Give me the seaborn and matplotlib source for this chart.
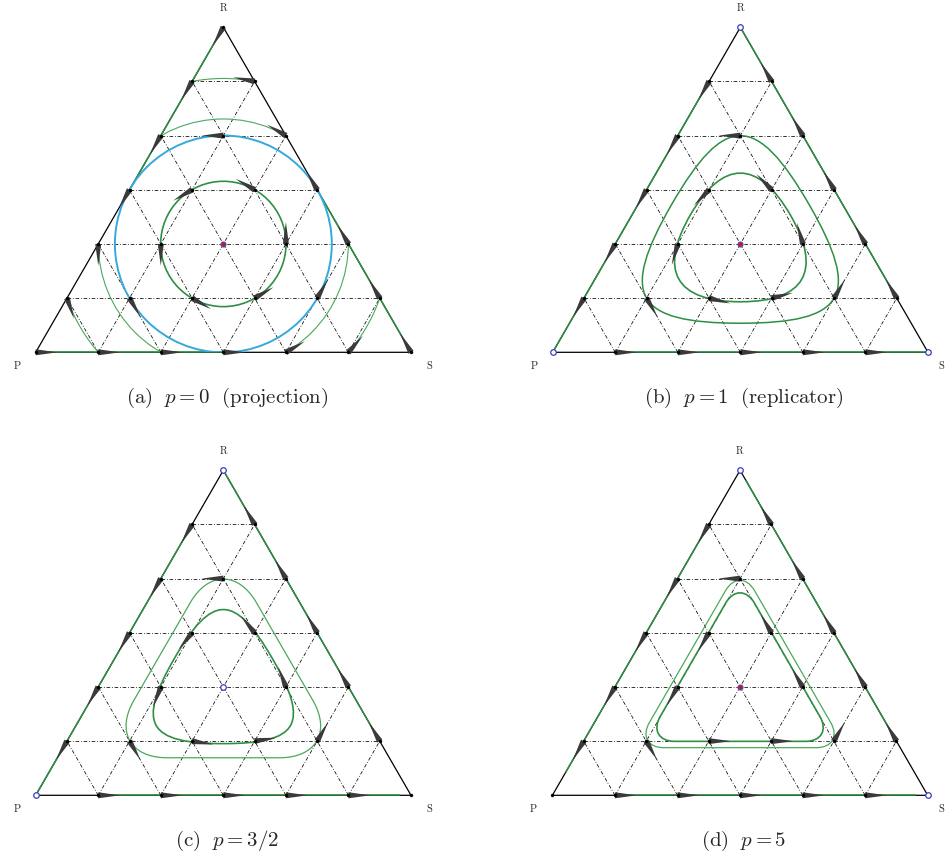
import numpy as np
import pandas as pd
import matplotlib
matplotlib.use("Agg")
import matplotlib.pyplot as plt
import seaborn as sns
from matplotlib.patches import Polygon, Circle, PathPatch
from matplotlib.path import Path

sns.set_theme(style="white")
plt.rcParams["mathtext.fontset"] = "cm"
plt.rcParams["lines.scale_dashes"] = False

H = np.sqrt(3) / 2
N = 6  # grid subdivisions per side

captions = [r"$\mathrm{(a)}\ \ p=0\ \ \mathrm{(projection)}$",
            r"$\mathrm{(b)}\ \ p=1\ \ \mathrm{(replicator)}$",
            r"$\mathrm{(c)}\ \ p=3/2$",
            r"$\mathrm{(d)}\ \ p=5$"]
vertex_names = ["R", "P", "S"]

# arrow direction (degrees) at every grid node, row by row from the P-S side up
# (row k has R = k/6, node m has S = m/6); None means no arrow at that node
arrows_a = [0, 0, 0, 0, 30, 49, 120,
            289, 300, 330, 30, 60, 120,
            270, 270, None, 90, 120,
            240, 210, 150, 120,
            240, 180, 150,
            240, 169,
            240]
arrows_b = [None, 0, 0, 0, 0, 0, None,
            240, 300, 346, 14, 60, 120,
            240, 254, None, 106, 120,
            240, 226, 134, 120,
            240, 180, 120,
            240, 120,
            None]
arrows_c = [None, 0, 0, 0, 0, 0, None,
            240, 300, 351, 9, 60, 120,
            240, 249, None, 111, 120,
            240, 231, 129, 120,
            240, 180, 120,
            240, 120,
            None]
arrows_d = [None, 0, 0, 0, 0, 0, None,
            240, 300, 0, 0, 60, 120,
            240, 240, None, 120, 120,
            240, 240, 120, 120,
            240, 180, 120,
            240, 120,
            None]

# green pieces of the boundary, (R, P, S) end points
edges_a = [((0.5, 0.5, 0), (1, 0, 0)), ((0, 1, 0), (0, 0.5, 0.5)), ((0, 0, 1), (0.5, 0, 0.5))]
edges_b = [((5/6, 1/6, 0), (0, 1, 0)), ((0, 5/6, 1/6), (0, 0, 1)), ((1, 0, 0), (1/6, 0, 5/6))]
edges_c = [((5/6, 1/6, 0), (0, 1, 0)), ((0, 5/6, 1/6), (0, 0.03, 0.97)), ((1, 0, 0), (1/6, 0, 5/6))]
edges_d = [((5/6, 1/6, 0), (0.07, 0.93, 0)), ((0, 5/6, 1/6), (0, 0.03, 0.97)), ((0.97, 0, 0.03), (1/6, 0, 5/6))]

# orbits of panel (a): circles around the barycentre (radius in side lengths)
circles_a = [0.167, 0.333, 0.441]
circle_a_blue = 0.289
# orbits of panels (b)-(d): R share of the corner pointing at R, inner then outer
orbit_corner = {"b": [0.689, 0.821], "c": [0.682, 0.769], "d": [0.668, 0.707]}
orbit_shape = {"b": [(0.5, 0.645), (0.5, 0.77)],
               "c": [(0.5, 0.77), (0.27, 0.55)],
               "d": [(0.153, 0.55), (0.138, 0.55)]}
open_vertices = {"a": [], "b": [0, 1, 2], "c": [0, 1], "d": [0, 2]}
center_open = {"a": False, "b": False, "c": True, "d": False}

GREEN = "#2f8f42"
GREEN_L = "#4aa95b"
BLUE = "#35a8dc"
ARROW = "#3a3a3a"


def to_xy(r, p, s):
    return np.array([s + r / 2, r * H])


nodes = pd.DataFrame([(k, m) for k in range(N + 1) for m in range(N + 1 - k)], columns=["k", "m"])
nodes["x"] = nodes["m"] / N + nodes["k"] / (2 * N)
nodes["y"] = nodes["k"] / N * H

VERT = [to_xy(1, 0, 0), to_xy(0, 1, 0), to_xy(0, 0, 1)]


def rounded_triangle(rc, cut, tension):
    lo = (1 - rc) / 2
    cs = [to_xy(rc, lo, lo), to_xy(lo, rc, lo), to_xy(lo, lo, rc)]
    verts, codes = [], []
    for i in range(3):
        c, prv, nxt = cs[i], cs[i - 1], cs[(i + 1) % 3]
        a0 = c + cut * (prv - c)
        a1 = c + cut * (nxt - c)
        verts.append(a0)
        codes.append(Path.MOVETO if i == 0 else Path.LINETO)
        verts += [a0 + tension * (c - a0), a1 + tension * (c - a1), a1]
        codes += [Path.CURVE4] * 3
    verts.append(verts[0])
    codes.append(Path.CLOSEPOLY)
    return Path(verts, codes)


def draw_panel(ax, key, arrows, edges, caption, s_x):
    ax.set_xlim(0, 1)
    ax.set_ylim(0, H)
    ax.axis("off")

    # dash-dot grid
    ls = (0, (2.6, 1.3, 0.6, 1.3))
    for i in range(1, N):
        t = i / N
        for a, b in [((t, 1 - t, 0), (t, 0, 1 - t)),
                     ((0, 1 - t, t), (1 - t, 0, t)),
                     ((0, t, 1 - t), (1 - t, t, 0))]:
            pa, pb = to_xy(*a), to_xy(*b)
            ax.plot([pa[0], pb[0]], [pa[1], pb[1]], color="black", lw=0.55, ls=ls, zorder=1)

    ax.add_patch(Polygon(VERT, closed=True, fill=False, ec="black", lw=0.9, zorder=2, clip_on=False))
    for a, b in edges:
        pa, pb = to_xy(*a), to_xy(*b)
        ax.plot([pa[0], pb[0]], [pa[1], pb[1]], color=GREEN, lw=1.1, zorder=3,
                solid_capstyle="butt", clip_on=False)

    clip = Polygon(VERT, closed=True, transform=ax.transData)
    if key == "a":
        for r, lw, col in zip(circles_a, [1.2, 0.8, 0.8], [GREEN, GREEN_L, GREEN_L]):
            c = Circle(to_xy(1/3, 1/3, 1/3), r, fill=False, ec=col, lw=lw, zorder=3)
            ax.add_patch(c)
            c.set_clip_path(clip)
        ax.add_patch(Circle(to_xy(1/3, 1/3, 1/3), circle_a_blue, fill=False, ec=BLUE, lw=1.4, zorder=3))
    else:
        styles = [(1.2, GREEN), (1.1, GREEN)] if key == "b" else [(1.2, GREEN), (0.9, GREEN_L)]
        for rc, (cut, ten), (lw, col) in zip(orbit_corner[key], orbit_shape[key], styles):
            ax.add_patch(PathPatch(rounded_triangle(rc, cut, ten), fill=False, ec=col, lw=lw, zorder=3))

    # flow arrows: tapered wedges starting at the node
    L, w = 0.058, 0.016
    for (_, row), ang in zip(nodes.iterrows(), arrows):
        if ang is None:
            continue
        d = np.array([np.cos(np.radians(ang)), np.sin(np.radians(ang))])
        n = np.array([-d[1], d[0]])
        p0 = np.array([row["x"], row["y"]])
        ax.add_patch(Polygon([p0 + n * w / 2, p0 + d * L, p0 - n * w / 2], closed=True,
                             fc=ARROW, ec="none", zorder=4, clip_on=False))

    sns.scatterplot(data=nodes, x="x", y="y", ax=ax, s=6, color="black", linewidth=0,
                    legend=False, zorder=5, clip_on=False)
    for v in open_vertices[key]:
        ax.plot(*VERT[v], marker="o", ms=4, mfc="white", mec="#3b3bb8", mew=0.9, zorder=6, clip_on=False)
    ctr = to_xy(1/3, 1/3, 1/3)
    if center_open[key]:
        ax.plot(*ctr, marker="o", ms=4, mfc="white", mec="#3b3bb8", mew=0.9, zorder=6)
    else:
        ax.plot(*ctr, marker="o", ms=3.6, mfc="#d0102a", mec="#5050b0", mew=0.8, zorder=6)

    ax.text(0.5, H + 0.054, r"$\mathrm{R}$", ha="center", va="center", fontsize=7.5)
    ax.text(-0.05, -0.034, r"$\mathrm{P}$", ha="center", va="center", fontsize=7.5, clip_on=False)
    ax.text(s_x, -0.034, r"$\mathrm{S}$", ha="center", va="center", fontsize=7.5, clip_on=False)
    ax.text(0.51, -0.122, caption, ha="center", va="center", fontsize=15)


fig = plt.figure(figsize=(9.47, 8.61), dpi=100)
W, HH = 947, 861
side = 375.3
panels = [("a", 35.7, 352.3, arrows_a, edges_a, 1.049),
          ("b", 552.7, 352.3, arrows_b, edges_b, 1.036),
          ("c", 35.7, 795.3, arrows_c, edges_c, 1.049),
          ("d", 552.4, 795.3, arrows_d, edges_d, 1.036)]
for (key, px, py, arr, edg, sx), cap in zip(panels, captions):
    ax = fig.add_axes([px / W, (HH - py) / HH, side / W, side * H / HH])
    draw_panel(ax, key, arr, edg, cap, sx)

fig.savefig("out.png", dpi=100, facecolor="white")
